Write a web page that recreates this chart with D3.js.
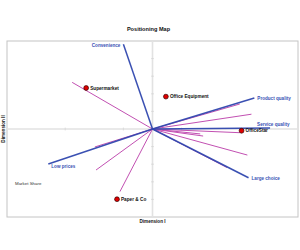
<!DOCTYPE html>
<html>
<head>
<meta charset="utf-8">
<script src="https://cdn.jsdelivr.net/npm/d3@7"></script>
<style>
html,body{margin:0;padding:0;background:#fff;}
svg{display:block;font-family:"Liberation Sans",Arial,sans-serif;}
</style>
</head>
<body>
<svg id="chart" width="300" height="250"></svg>
<script>
// ---- data ----
const attributeNames = ["Convenience", "Product quality", "Service quality", "Large choice", "Low prices"];
const attributeX = [-0.50, 1.75, 2.02, 1.65, -1.79];
const attributeY = [4.81, 1.76, 0.06, -2.77, -1.99];

const segmentX = [-1.38, -0.99, -0.97, -0.56, 1.50, 1.70, 1.50, 0.82, 0.87, 1.63, 1.28];
const segmentY = [2.65, -1.02, -2.33, -3.56, 1.42, 0.84, -0.21, -0.28, -0.40, -1.48, -2.19];

const brandNames = ["Supermarket", "Office Equipment", "OfficeStar", "Paper & Co"];
const brandX = [-1.14, 0.23, 1.53, -0.61];
const brandY = [2.33, 1.84, -0.10, -3.99];

const xTicks = [-1.5, -0.5, 0.5, 1.5];
const yTicks = [-4, -3, -2, -1, 1, 2, 3, 4];

const titleText = "Positioning Map";
const xTitle = "Dimension I";
const yTitle = "Dimension II";
const noteText = "Market Share";

// ---- layout ----
const svg = d3.select("#chart");
const plot = {left: 7, right: 298, top: 41, bottom: 217};
const x = d3.scaleLinear().domain([-2.5, 2.5]).range([plot.left, plot.right]);
const y = d3.scaleLinear().domain([-5, 5]).range([plot.bottom, plot.top]);

const blue = "#2f47ae";
const pink = "#c250b2";

// label offsets (layout only)
const attrLabelLayout = {
  "Convenience": {anchor: "end", dx: -3, dy: 3},
  "Product quality": {anchor: "start", dx: 3, dy: 2},
  "Service quality": {anchor: "start", dx: -13, dy: -1.5},
  "Large choice": {anchor: "start", dx: 3, dy: 2},
  "Low prices": {anchor: "start", dx: 3, dy: 4}
};

// title
svg.append("text").attr("x", 148.5).attr("y", 31)
  .attr("text-anchor", "middle").attr("font-size", 5.6).attr("font-weight", "bold")
  .attr("fill", "#111").text(titleText);

// frame
svg.append("rect").attr("x", plot.left).attr("y", plot.top)
  .attr("width", plot.right - plot.left).attr("height", plot.bottom - plot.top)
  .attr("fill", "#fff").attr("stroke", "#c4c4c4").attr("stroke-width", 1);

// center axes
svg.append("line").attr("x1", plot.left).attr("x2", plot.right)
  .attr("y1", y(0)).attr("y2", y(0)).attr("stroke", "#e2e2e2").attr("stroke-width", 1.6);
svg.append("line").attr("x1", x(0)).attr("x2", x(0))
  .attr("y1", plot.top).attr("y2", plot.bottom).attr("stroke", "#e2e2e2").attr("stroke-width", 1.6);

// ticks
svg.selectAll(".xt").data(xTicks).join("line").attr("class", "xt")
  .attr("x1", d => x(d)).attr("x2", d => x(d))
  .attr("y1", y(0) - 1.5).attr("y2", y(0) + 1.5).attr("stroke", "#cfcfcf").attr("stroke-width", 0.6);
svg.selectAll(".yt").data(yTicks).join("line").attr("class", "yt")
  .attr("x1", x(0) - 1.5).attr("x2", x(0) + 1.5)
  .attr("y1", d => y(d)).attr("y2", d => y(d)).attr("stroke", "#cfcfcf").attr("stroke-width", 0.6);

// segment (pink) lines
const segs = segmentX.map((v, i) => ({x: v, y: segmentY[i]}));
svg.selectAll(".seg").data(segs).join("line").attr("class", "seg")
  .attr("x1", x(0)).attr("y1", y(0))
  .attr("x2", d => x(d.x)).attr("y2", d => y(d.y))
  .attr("stroke", pink).attr("stroke-width", 1);

// attribute (blue) lines
const attrs = attributeNames.map((n, i) => ({name: n, x: attributeX[i], y: attributeY[i]}));
svg.selectAll(".attr").data(attrs).join("line").attr("class", "attr")
  .attr("x1", x(0)).attr("y1", y(0))
  .attr("x2", d => x(d.x)).attr("y2", d => y(d.y))
  .attr("stroke", blue).attr("stroke-width", 1.5).attr("stroke-opacity", 0.95);

svg.selectAll(".attrLabel").data(attrs).join("text").attr("class", "attrLabel")
  .attr("x", d => x(d.x) + attrLabelLayout[d.name].dx)
  .attr("y", d => y(d.y) + attrLabelLayout[d.name].dy)
  .attr("text-anchor", d => attrLabelLayout[d.name].anchor)
  .attr("font-size", 4.6).attr("font-weight", "bold").attr("fill", "#3a52b4")
  .text(d => d.name);

// brand points
const brands = brandNames.map((n, i) => ({name: n, x: brandX[i], y: brandY[i]}));
svg.selectAll(".brand").data(brands).join("circle").attr("class", "brand")
  .attr("cx", d => x(d.x)).attr("cy", d => y(d.y)).attr("r", 2.4)
  .attr("fill", "#e00000").attr("stroke", "#300").attr("stroke-width", 0.7);
svg.selectAll(".brandLabel").data(brands).join("text").attr("class", "brandLabel")
  .attr("x", d => x(d.x) + 4).attr("y", d => y(d.y) + 1.7)
  .attr("font-size", 4.7).attr("font-weight", "bold").attr("fill", "#111")
  .text(d => d.name);

// note
svg.append("text").attr("x", 15).attr("y", 184.5)
  .attr("font-size", 4.4).attr("fill", "#333").text(noteText);

// axis titles
svg.append("text").attr("x", (plot.left + plot.right) / 2).attr("y", 222.5)
  .attr("text-anchor", "middle").attr("font-size", 4.6).attr("font-weight", "bold")
  .attr("fill", "#111").text(xTitle);
svg.append("text").attr("transform", `translate(4.6,${y(0)}) rotate(-90)`)
  .attr("text-anchor", "middle").attr("font-size", 4.6).attr("font-weight", "bold")
  .attr("fill", "#111").text(yTitle);
</script>
</body>
</html>
